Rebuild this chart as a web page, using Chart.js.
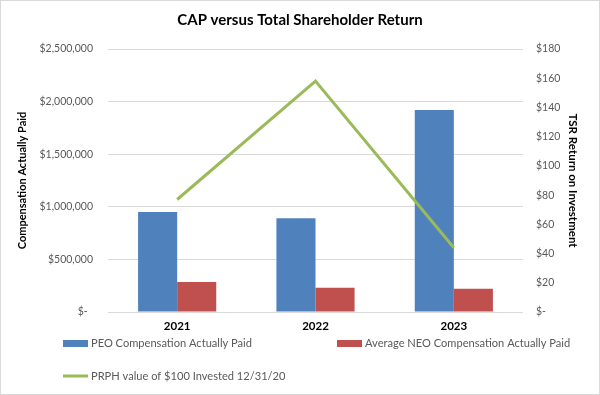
<!DOCTYPE html>
<html>
<head>
<meta charset="utf-8">
<script src="https://cdn.jsdelivr.net/npm/chart.js@4/dist/chart.umd.min.js"></script>
<style>
  body { margin: 0; background: #fff; }
  #wrap { width: 600px; height: 395px; box-sizing: border-box; border: 1px solid #d9d9d9; }
</style>
</head>
<body>
<div id="wrap"><canvas id="capChart" width="598" height="393"></canvas></div>
<script>
// chart data
var years = ['2021', '2022', '2023'];
var peoCap = [950000, 890000, 1920000];
var neoCap = [285000, 231000, 221000];
var tsrValue = [77, 158, 44];

var FONT = 'Lato, "Liberation Sans", sans-serif';

function money(v) {
    if (v === 0) return '$-  ';
    return '$' + v.toLocaleString('en-US');
}

// Excel style legend (two columns, left aligned)
var excelLegend = {
    id: 'excelLegend',
    afterDraw: function(chart) {
        var ctx = chart.ctx;
        var slots = [[62, 342], [336, 342], [62, 375]];
        ctx.save();
        ctx.font = '11.1px ' + FONT;
        ctx.textBaseline = 'middle';
        chart.data.datasets.forEach(function(ds, i) {
            var x = slots[i][0], y = slots[i][1];
            if (ds.type === 'line') {
                ctx.fillStyle = ds.borderColor;
                ctx.fillRect(x, y - 1.5, 25, 3);
            } else {
                ctx.fillStyle = ds.backgroundColor;
                ctx.fillRect(x, y - 3, 25, 7);
            }
            ctx.fillStyle = '#595959';
            ctx.fillText(ds.label, x + 28, y);
        });
        ctx.restore();
    }
};

var ctx1 = document.getElementById('capChart').getContext('2d');
var capChart = new Chart(ctx1, {
    type: 'bar',
    data: {
        labels: years,
        datasets: [{
            label: 'PEO Compensation Actually Paid',
            data: peoCap,
            backgroundColor: '#4F81BD',
            yAxisID: 'y',
            order: 1
        }, {
            label: 'Average NEO Compensation Actually Paid',
            data: neoCap,
            backgroundColor: '#C0504D',
            yAxisID: 'y',
            order: 1
        }, {
            type: 'line',
            label: 'PRPH value of $100 Invested 12/31/20',
            data: tsrValue,
            borderColor: '#9BBB59',
            borderWidth: 3,
            pointRadius: 0,
            fill: false,
            yAxisID: 'y1',
            order: 0
        }]
    },
    options: {
        responsive: false,
        animation: false,
        categoryPercentage: 0.565,
        barPercentage: 1,
        layout: { padding: { bottom: 58 } },
        plugins: {
            legend: { display: false },
            tooltip: { enabled: false },
            title: {
                display: true,
                text: 'CAP versus Total Shareholder Return',
                color: '#000',
                font: { family: FONT, size: 15, weight: 'bold' },
                padding: { top: 10, bottom: 20 }
            }
        },
        scales: {
            x: {
                grid: { display: false, drawTicks: false },
                border: { display: false },
                ticks: { color: '#000', padding: 7, font: { family: FONT, size: 11.5, weight: 'bold' } },
                afterFit: function(s) { s.height = 24; }
            },
            y: {
                position: 'left',
                min: 0,
                max: 2500000,
                border: { display: false },
                grid: { color: '#d9d9d9', drawTicks: false },
                ticks: {
                    stepSize: 500000,
                    padding: 15,
                    color: '#595959',
                    font: { family: FONT, size: 10.5 },
                    callback: function(v) { return money(v); }
                },
                title: {
                    display: true,
                    text: 'Compensation Actually Paid',
                    color: '#000',
                    font: { family: FONT, size: 11, weight: 'bold' },
                    padding: { top: 15, bottom: 0 }
                },
                afterFit: function(s) { s.width = 107; }
            },
            y1: {
                position: 'right',
                min: 0,
                max: 180,
                border: { display: false },
                grid: { display: false, drawTicks: false },
                ticks: {
                    stepSize: 20,
                    padding: 13,
                    color: '#595959',
                    font: { family: FONT, size: 10.5 },
                    callback: function(v) { return v === 0 ? '$-' : '$' + v; }
                },
                title: {
                    display: true,
                    text: 'TSR Return on Investment',
                    color: '#000',
                    font: { family: FONT, size: 11.5, weight: 'bold' },
                    padding: { top: 19, bottom: 0 }
                },
                afterFit: function(s) { s.width = 76; }
            }
        }
    },
    plugins: [excelLegend]
});
</script>
</body>
</html>
